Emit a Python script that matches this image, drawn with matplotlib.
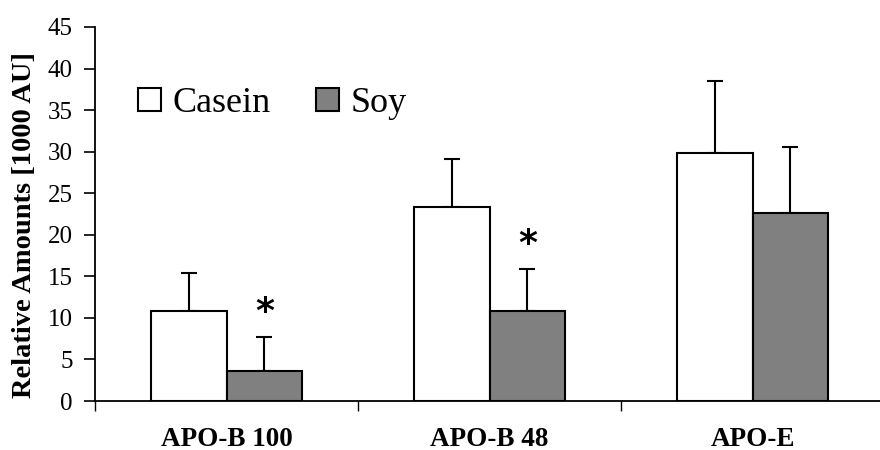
import numpy as np
import matplotlib
matplotlib.use("Agg")
import matplotlib.pyplot as plt

# values
groups = ["APO-B 100", "APO-B 48", "APO-E"]
casein = [10.85, 23.3, 29.85]
casein_err = [4.6, 5.8, 8.65]
soy = [3.6, 10.8, 22.6]
soy_err = [4.1, 5.1, 7.95]
stars = [True, True, False]

plt.rcParams["font.family"] = ["Liberation Serif", "DejaVu Serif"]

fig = plt.figure(figsize=(8.8, 4.5), dpi=100)
ax = fig.add_axes([95 / 880, 49 / 450, 785 / 880, 374 / 450])

x = np.arange(len(groups))
w = 0.287
lw = 1.5

ax.bar(x - w / 2, casein, w, color="white", edgecolor="black", linewidth=lw, label="Casein", zorder=2)
ax.bar(x + w / 2, soy, w, color="#808080", edgecolor="black", linewidth=lw, label="Soy", zorder=2)
ax.errorbar(x - w / 2, casein, yerr=[np.zeros(3), casein_err], fmt="none", ecolor="black",
            elinewidth=lw, capsize=5.8, capthick=lw, zorder=1)
ax.errorbar(x + w / 2, soy, yerr=[np.zeros(3), soy_err], fmt="none", ecolor="black",
            elinewidth=lw, capsize=5.8, capthick=lw, zorder=1)

for i, s in enumerate(stars):
    if s:
        ax.text(x[i] + w / 2, soy[i] + soy_err[i] + 3.0, "*", ha="center", va="center",
                fontsize=26, fontweight="bold", family="DejaVu Sans")

ax.set_xlim(-0.5, -0.5 + 785 / 263)
ax.set_ylim(0, 45)
ax.set_yticks(np.arange(0, 46, 5))
ax.tick_params(axis="y", direction="out", length=8, width=1.2, labelsize=18, pad=8)

ax.set_xticks(x)
ax.set_xticklabels(groups, fontsize=19.5, fontweight="bold")
ax.tick_params(axis="x", which="major", length=0, pad=18.5)
ax.set_xticks([-0.5, 0.5, 1.5], minor=True)
ax.tick_params(axis="x", which="minor", direction="out", length=7, width=1.0)

for side in ["top", "right"]:
    ax.spines[side].set_visible(False)
for side in ["left", "bottom"]:
    ax.spines[side].set_linewidth(1.3)

ax.set_ylabel("Relative Amounts [1000 AU]", fontsize=20.5, fontweight="bold")
ax.yaxis.set_label_coords(-58 / 785, 0.47)

ax.legend(loc="center left", bbox_to_anchor=(0.036, 0.795), ncol=2, frameon=False,
          fontsize=26, handlelength=0.64, handleheight=0.64, handletextpad=0.33,
          columnspacing=1.25, borderaxespad=0)

fig.savefig("out.png", dpi=100)
